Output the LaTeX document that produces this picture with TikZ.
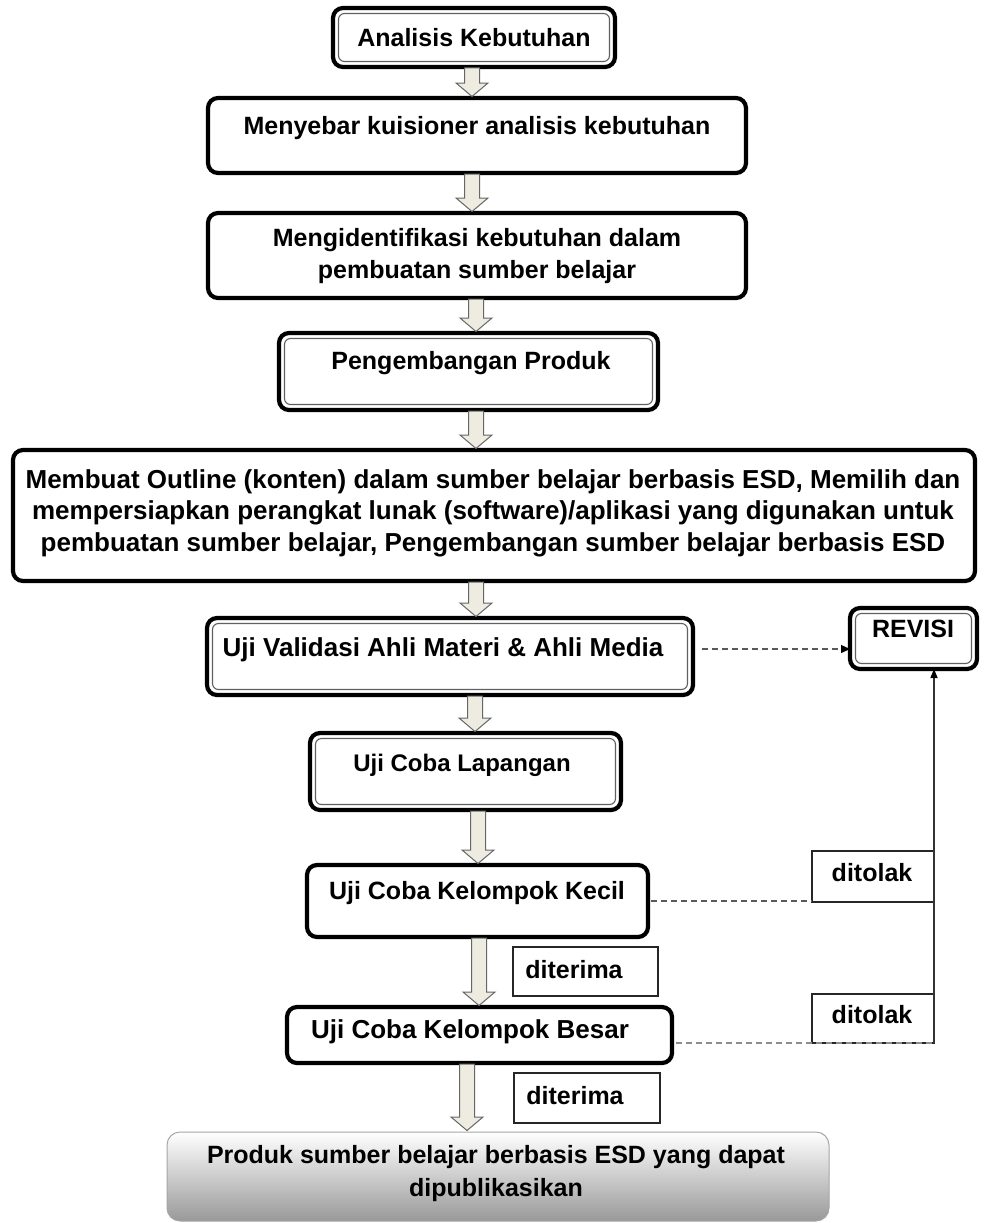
\documentclass[tikz,border=0pt]{standalone}
\usepackage{fontspec}
\setmainfont{Liberation Sans}
\usetikzlibrary{calc,arrows.meta}
\definecolor{arrowfill}{RGB}{238,236,224}
\newcommand{\fatarrow}[3]{%
  \path[fatarr] let \p1=(#2.south), \p2=(#3.north) in
    (#1pt-7.5pt,\y1-1pt) -- (#1pt+7.5pt,\y1-1pt) -- (#1pt+7.5pt,\y2+15pt) --
    (#1pt+16pt,\y2+15pt) -- (#1pt,\y2+1.5pt) -- (#1pt-16pt,\y2+15pt) --
    (#1pt-7.5pt,\y2+15pt) -- cycle;}
\newcommand{\innerframe}[1]{%
  \draw[inframe] ([shift={(5.5pt,-5.5pt)}]#1.north west) rectangle ([shift={(-5.5pt,5.5pt)}]#1.south east);}
\begin{document}
\begin{tikzpicture}[x=1pt,y=-1pt,
  font=\fontsize{25}{31.5}\selectfont\bfseries,
  box/.style={draw=black, line width=4.2pt, rounded corners=10pt, fill=white, inner sep=0pt, outer sep=0pt},
  inframe/.style={draw=gray!75!black, line width=1.1pt, rounded corners=6pt},
  txt/.style={inner sep=0pt, align=center},
  bigtxt/.style={txt, font=\fontsize{26}{31.5}\selectfont\bfseries},
  fatarr/.style={draw=gray!80!black, fill=arrowfill, line width=1pt, line join=miter},
  lbl/.style={draw=black!85, line width=1.3pt, fill=white, inner sep=0pt, outer sep=0pt},
  dline/.style={dashed, dash pattern=on 6pt off 4pt, draw=black!65, line width=1.3pt},
  rline/.style={draw=black!80, line width=1.4pt},
]
\useasboundingbox[fill=white] (0,0) rectangle (988,1223);

% boxes
\node[box, minimum width=282, minimum height=59] (A) at (474,37.5) {};
\node[box, minimum width=538, minimum height=75] (B) at (477,135.5) {};
\node[box, minimum width=538, minimum height=85] (C) at (477,255.5) {};
\node[box, minimum width=379, minimum height=77] (D) at (468.5,371.5) {};
\node[box, minimum width=962, minimum height=131] (E) at (494,515.5) {};
\node[box, minimum width=486, minimum height=77] (F) at (450,656.5) {};
\node[box, minimum width=127, minimum height=61] (R) at (913.5,638.5) {};
\node[box, minimum width=311, minimum height=77] (G) at (465.5,771.5) {};
\node[box, minimum width=341, minimum height=72] (H) at (477.5,901) {};
\node[box, minimum width=385, minimum height=56] (I) at (479.5,1035) {};
\node[draw=gray!70, line width=1pt, rounded corners=13pt, top color=white, bottom color=black!40,
      inner sep=0pt, outer sep=0pt, minimum width=662, minimum height=89] (J) at (498,1176.5) {};

\innerframe{A}
\innerframe{D}
\innerframe{F}
\innerframe{R}
\innerframe{G}

% label boxes
\node[lbl, minimum width=145, minimum height=49] (d1) at (585.5,971.5) {};
\node[lbl, minimum width=146, minimum height=50] (d2) at (587,1098) {};
\node[lbl, minimum width=122, minimum height=51] (t1) at (873,876.5) {};
\node[lbl, minimum width=122, minimum height=49] (t2) at (873,1018.5) {};

% texts
\node[txt] (At) at (474,38) {Analisis Kebutuhan};
\node[txt] (Bt) at (477,128) {Menyebar kuisioner analisis kebutuhan};
\node[txt] (Ct) at (477,256) {Mengidentifikasi kebutuhan dalam\\pembuatan sumber belajar};
\node[txt] (Dt) at (471,363) {Pengembangan Produk};
\node[bigtxt] (Et) at (493,513) {Membuat Outline (konten) dalam sumber belajar berbasis ESD, Memilih dan\\mempersiapkan perangkat lunak (software)/aplikasi yang digunakan untuk\\pembuatan sumber belajar, Pengembangan sumber belajar berbasis ESD};
\node[bigtxt] (Ft) at (443,650) {Uji Validasi Ahli Materi \& Ahli Media};
\node[txt] (Rt) at (913,629) {REVISI};
\node[txt, font=\fontsize{24}{30}\selectfont\bfseries] (Gt) at (462,765) {Uji Coba Lapangan};
\node[txt] (Ht) at (477,893) {Uji Coba Kelompok Kecil};
\node[bigtxt] (It) at (470,1032) {Uji Coba Kelompok Besar};
\node[txt] (Jt) at (496,1173.5) {Produk sumber belajar berbasis ESD yang dapat\\[1.5pt]dipublikasikan};
\node[txt] (d1t) at (574,970) {diterima};
\node[txt] (d2t) at (575,1096) {diterima};
\node[txt] (t1t) at (872,873) {ditolak};
\node[txt] (t2t) at (872,1015) {ditolak};

% fat arrows
\fatarrow{472}{A}{B}
\fatarrow{472}{B}{C}
\fatarrow{476}{C}{D}
\fatarrow{476}{D}{E}
\fatarrow{476}{E}{F}
\fatarrow{475}{F}{G}
\fatarrow{478}{G}{H}
\fatarrow{479}{H}{I}
\fatarrow{467}{I}{J}

% dashed connectors and return line
\draw[dline, -{Triangle[length=9pt,width=8pt,color=black]}] ([xshift=9pt,yshift=7.5pt]F.east) -- ([yshift=-10.5pt]R.west);
\draw[dline] ([xshift=3pt]H.east) -- (H.east -| t1.west);
\draw[dline, draw=black!45] ([xshift=4pt,yshift=-8pt]I.east) -- (t2.south east);
\draw[rline, -{Triangle[length=9pt,width=7pt,color=black]}] (t2.south east) -- (t2.east |- R.south);
\end{tikzpicture}
\end{document}
